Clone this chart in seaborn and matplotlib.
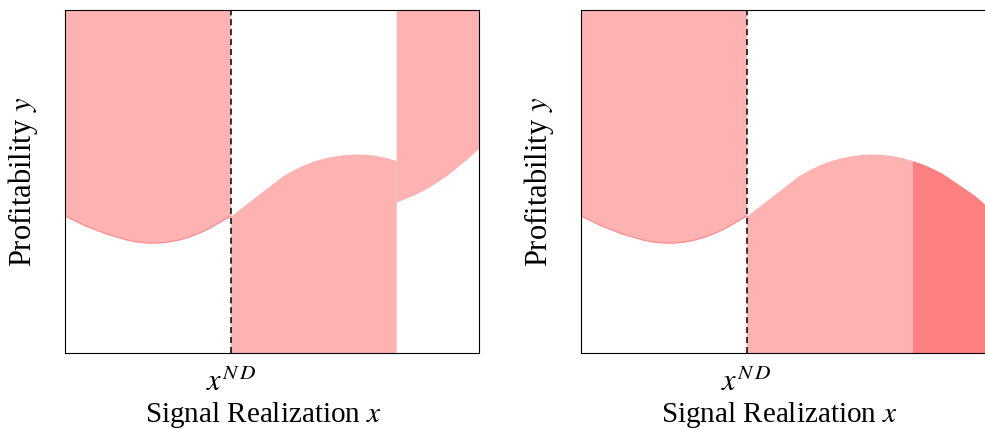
import numpy as np
import pandas as pd
import seaborn as sns
import matplotlib.pyplot as plt

# curve (x in [0, 1], y as a share of the axes height)
x_vals = [0.000, 0.025, 0.050, 0.075, 0.100, 0.125, 0.150, 0.175, 0.200, 0.225,
          0.250, 0.275, 0.300, 0.325, 0.350, 0.375, 0.400, 0.425, 0.450, 0.475,
          0.500, 0.525, 0.550, 0.575, 0.600, 0.625, 0.650, 0.675, 0.700, 0.725,
          0.750, 0.775, 0.800, 0.825, 0.850, 0.875, 0.900, 0.925, 0.950, 0.975, 1.000]
profit = [0.3994, 0.3848, 0.3703, 0.3586, 0.3469, 0.3382, 0.3294, 0.3236, 0.3207, 0.3207,
          0.3236, 0.3294, 0.3382, 0.3499, 0.3644, 0.3819, 0.3994, 0.4227, 0.4461, 0.4694,
          0.4927, 0.5160, 0.5335, 0.5481, 0.5598, 0.5685, 0.5743, 0.5787, 0.5802, 0.5793,
          0.5758, 0.5700, 0.5612, 0.5510, 0.5379, 0.5219, 0.5015, 0.4810, 0.4606, 0.4344, 0.4082]
# shifted curve on the last part of the left panel
x_upper = [0.800, 0.825, 0.850, 0.875, 0.900, 0.925, 0.950, 0.975, 1.000]
profit_upper = [0.4402, 0.4519, 0.4650, 0.4810, 0.5000, 0.5204, 0.5452, 0.5700, 0.5977]

x_nd = 0.40
x_cut = 0.80
tick_label = r"$x^{N\,D}$"
xlabel = r"Signal Realization $x$"
ylabel = r"Profitability $y$"

df = pd.DataFrame({"x": x_vals, "y": profit})
up = pd.DataFrame({"x": x_upper, "y": profit_upper})

sns.set_style("white")
plt.rcParams["font.family"] = ["Liberation Serif", "DejaVu Serif"]
plt.rcParams["mathtext.fontset"] = "stix"
plt.rcParams["text.color"] = "black"
plt.rcParams["axes.labelcolor"] = "black"
plt.rcParams["xtick.color"] = "black"

fig = plt.figure(figsize=(9.85, 4.3), dpi=100)
ax1 = fig.add_axes([0.066, 0.179, 0.4203, 0.7977])
ax2 = fig.add_axes([0.5898, 0.179, 0.4203, 0.7977])

light = "#ffb2b2"
dark = "#ff8080"

left = df[df.x <= x_nd]
mid = df[(df.x >= x_nd) & (df.x <= x_cut)]
right = df[df.x >= x_cut]

for ax in (ax1, ax2):
    ax.fill_between(left.x, left.y, 1, color=light, lw=0)
    sns.lineplot(data=left, x="x", y="y", ax=ax, color="#ff8c8c", lw=0.8)
    ax.fill_between(mid.x, 0, mid.y, color=light, lw=0)

# left panel: jump up after the cut
ax1.fill_between(up.x, up.y, 1, color=light, lw=0)
# right panel: darker area below the curve
ax2.fill_between(right.x, 0, right.y, color=dark, lw=0)

for ax in (ax1, ax2):
    ax.axvline(x_nd, color="black", ls=(0, (4, 2.5)), lw=1.1)
    ax.set_xlim(0, 1)
    ax.set_ylim(0, 1)
    ax.set_xticks([x_nd])
    ax.set_xticklabels([tick_label], fontsize=22)
    ax.set_yticks([])
    ax.tick_params(axis="x", length=0, pad=11)
    ax.set_xlabel(xlabel, fontsize=21)
    ax.xaxis.set_label_coords(0.478, -0.138)
    ax.set_ylabel(ylabel, fontsize=22, labelpad=18)
    for s in ax.spines.values():
        s.set_color("black")
        s.set_linewidth(0.8)

fig.savefig("out.png", dpi=100)
